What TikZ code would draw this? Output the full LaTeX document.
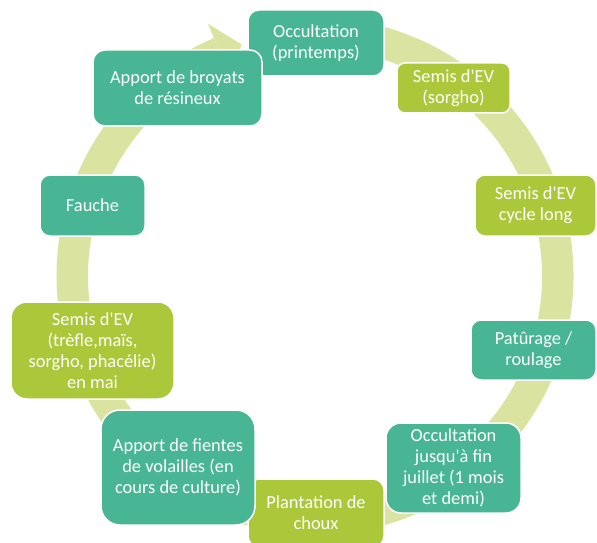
\documentclass[tikz,border=0pt]{standalone}
\usepackage{fontspec}
\setmainfont{Carlito}[Ligatures=TeXOff]
\definecolor{tealc}{RGB}{72,182,148}
\definecolor{limec}{RGB}{171,200,59}
\definecolor{ringc}{RGB}{218,228,160}
\begin{document}
\begin{tikzpicture}[x=1pt,y=1pt,
  box/.style={draw=white, line width=1.5pt, inner sep=0pt, align=center,
    text=white, font=\fontsize{18.4}{21}\selectfont},
  tealbox/.style={box, fill=tealc},
  limebox/.style={box, fill=limec},
  ring/.style={draw=ringc, line width=31.5pt, line cap=butt},
  sz/.style n args={3}{minimum width=#1pt, minimum height=#2pt, rounded corners=#3pt}]
\clip (0,0) rectangle (597,542);
\coordinate (c) at (315,266);
% cycle arrow
\draw[ring] ([shift={(95:242.75pt)}]c) arc[start angle=95, end angle=-247, radius=242.75pt];
\fill[ringc] ([shift={(113:274pt)}]c) -- ([shift={(107.6:243pt)}]c) -- ([shift={(113:212pt)}]c) -- cycle;
% steps
\node[tealbox, sz={136}{66}{11}] (occ1) at (316,499) {Occultation\\(printemps)};
\node[limebox, sz={113}{50}{8}] (sorgho) at (453.5,454) {Semis d'EV\\(sorgho)};
\node[limebox, sz={121}{61}{10}] (cyclelong) at (535.5,336.5) {Semis d'EV\\cycle long};
\node[tealbox, sz={125}{60}{10}] (patur) at (533.5,192) {Patûrage /\\roulage};
\node[tealbox, sz={135}{90}{15}] (occ2) at (453.5,74) {Occultation\\jusqu'à fin\\juillet (1 mois\\et demi)};
\node[limebox, sz={136}{68}{11}] (plant) at (316,29) {Plantation de\\choux};
\node[tealbox, sz={154}{115}{19}] (fientes) at (178,74.5) {Apport de fientes\\de volailles (en\\cours de culture)};
\node[limebox, sz={163}{97}{16}] (trefle) at (92.5,191.5) {Semis d'EV\\(trèfle,maïs,\\sorgho, phacélie)\\en mai};
\node[tealbox, sz={105}{61}{10}] (fauche) at (92.5,336.5) {Fauche};
\node[tealbox, sz={169}{76}{12}] (broyats) at (177.5,454) {Apport de broyats\\de résineux};
\end{tikzpicture}
\end{document}
